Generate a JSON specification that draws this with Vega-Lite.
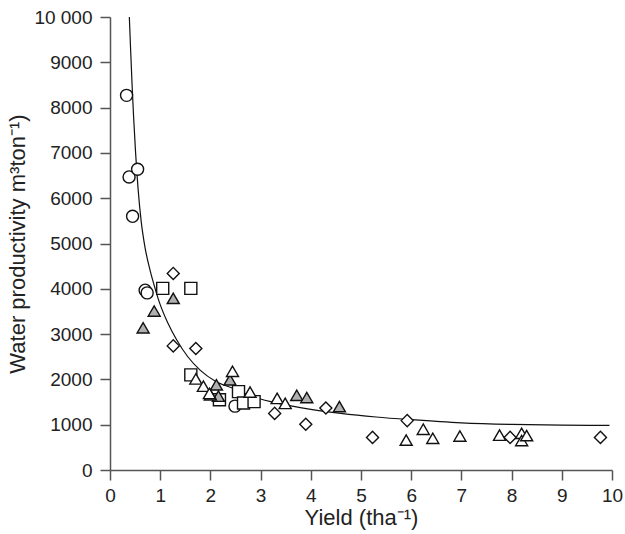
{
  "$schema": "https://vega.github.io/schema/vega-lite/v6.json",
  "width": 502,
  "height": 453,
  "autosize": {"type": "none"},
  "padding": {"left": 110, "top": 17, "right": 13, "bottom": 64},
  "background": "white",
  "config": {
    "view": {"stroke": null},
    "font": "Liberation Sans",
    "axis": {
      "grid": false,
      "domainColor": "#555555",
      "domainWidth": 1.5,
      "tickColor": "#555555",
      "tickWidth": 1.5,
      "tickSize": 10,
      "labelFont": "Liberation Sans",
      "labelFontSize": 19,
      "labelColor": "#222222",
      "titleFont": "Liberation Sans",
      "titleFontSize": 22,
      "titleFontWeight": "normal",
      "titleColor": "#222222"
    }
  },
  "datasets": {
    "pts": [
      {"yield": 0.33, "wp": 8270, "sym": "circle"},
      {"yield": 0.38, "wp": 6470, "sym": "circle"},
      {"yield": 0.55, "wp": 6640, "sym": "circle"},
      {"yield": 0.45, "wp": 5600, "sym": "circle"},
      {"yield": 0.70, "wp": 3970, "sym": "circle"},
      {"yield": 0.74, "wp": 3910, "sym": "circle"},
      {"yield": 2.49, "wp": 1410, "sym": "circle"},
      {"yield": 1.05, "wp": 4010, "sym": "square"},
      {"yield": 1.61, "wp": 4010, "sym": "square"},
      {"yield": 1.61, "wp": 2100, "sym": "square"},
      {"yield": 2.18, "wp": 1550, "sym": "square"},
      {"yield": 2.56, "wp": 1730, "sym": "square"},
      {"yield": 2.66, "wp": 1480, "sym": "square"},
      {"yield": 2.87, "wp": 1510, "sym": "square"},
      {"yield": 1.26, "wp": 4340, "sym": "diamond"},
      {"yield": 1.26, "wp": 2740, "sym": "diamond"},
      {"yield": 1.71, "wp": 2680, "sym": "diamond"},
      {"yield": 3.28, "wp": 1250, "sym": "diamond"},
      {"yield": 3.90, "wp": 1010, "sym": "diamond"},
      {"yield": 4.30, "wp": 1370, "sym": "diamond"},
      {"yield": 5.23, "wp": 720, "sym": "diamond"},
      {"yield": 5.92, "wp": 1090, "sym": "diamond"},
      {"yield": 7.97, "wp": 720, "sym": "diamond"},
      {"yield": 9.77, "wp": 720, "sym": "diamond"},
      {"yield": 0.66, "wp": 3140, "sym": "tri_grey"},
      {"yield": 0.88, "wp": 3510, "sym": "tri_grey"},
      {"yield": 1.26, "wp": 3790, "sym": "tri_grey"},
      {"yield": 2.12, "wp": 1880, "sym": "tri_grey"},
      {"yield": 2.16, "wp": 1630, "sym": "tri_grey"},
      {"yield": 2.00, "wp": 1660, "sym": "tri_grey"},
      {"yield": 2.39, "wp": 1990, "sym": "tri_grey"},
      {"yield": 3.72, "wp": 1650, "sym": "tri_grey"},
      {"yield": 3.92, "wp": 1600, "sym": "tri_grey"},
      {"yield": 4.57, "wp": 1400, "sym": "tri_grey"},
      {"yield": 1.71, "wp": 2010, "sym": "tri_open"},
      {"yield": 1.86, "wp": 1850, "sym": "tri_open"},
      {"yield": 1.98, "wp": 1690, "sym": "tri_open"},
      {"yield": 2.44, "wp": 2180, "sym": "tri_open"},
      {"yield": 2.79, "wp": 1720, "sym": "tri_open"},
      {"yield": 3.33, "wp": 1580, "sym": "tri_open"},
      {"yield": 3.49, "wp": 1470, "sym": "tri_open"},
      {"yield": 5.90, "wp": 660, "sym": "tri_open"},
      {"yield": 6.24, "wp": 900, "sym": "tri_open"},
      {"yield": 6.43, "wp": 700, "sym": "tri_open"},
      {"yield": 6.97, "wp": 750, "sym": "tri_open"},
      {"yield": 7.76, "wp": 770, "sym": "tri_open"},
      {"yield": 8.20, "wp": 810, "sym": "tri_open"},
      {"yield": 8.20, "wp": 650, "sym": "tri_open"},
      {"yield": 8.30, "wp": 760, "sym": "tri_open"}
    ],
    "curve": [
      {"yield": 0.385, "wp": 10000},
      {"yield": 0.41, "wp": 9300},
      {"yield": 0.44, "wp": 8500},
      {"yield": 0.47, "wp": 7800},
      {"yield": 0.51, "wp": 7000},
      {"yield": 0.56, "wp": 6200},
      {"yield": 0.62, "wp": 5500},
      {"yield": 0.70, "wp": 4900},
      {"yield": 0.80, "wp": 4400},
      {"yield": 0.90, "wp": 4000},
      {"yield": 1.00, "wp": 3650},
      {"yield": 1.15, "wp": 3250},
      {"yield": 1.33, "wp": 2870},
      {"yield": 1.55, "wp": 2500},
      {"yield": 1.80, "wp": 2200},
      {"yield": 2.10, "wp": 1960},
      {"yield": 2.46, "wp": 1800},
      {"yield": 2.90, "wp": 1600},
      {"yield": 3.40, "wp": 1460},
      {"yield": 4.00, "wp": 1340},
      {"yield": 4.60, "wp": 1250},
      {"yield": 5.30, "wp": 1170},
      {"yield": 6.00, "wp": 1110},
      {"yield": 7.00, "wp": 1040},
      {"yield": 8.00, "wp": 1005},
      {"yield": 9.00, "wp": 990},
      {"yield": 9.95, "wp": 985}
    ]
  },
  "encoding": {
    "x": {
      "field": "yield", "type": "quantitative",
      "scale": {"domain": [0, 10], "nice": false, "zero": true},
      "axis": {"values": [0,1,2,3,4,5,6,7,8,9,10], "format": "d", "title": "Yield (tha⁻¹)", "labelPadding": 6, "titlePadding": 2, "labelFlush": false}
    },
    "y": {
      "field": "wp", "type": "quantitative",
      "scale": {"domain": [0, 10000], "nice": false},
      "axis": {"values": [0,1000,2000,3000,4000,5000,6000,7000,8000,9000,10000], "format": "d", "labelExpr": "datum.value == 10000 ? '10 000' : datum.label", "title": "Water productivity m³ton⁻¹)", "labelPadding": 8, "titlePadding": 4, "labelFlush": false}
    }
  },
  "layer": [
    {
      "data": {"name": "curve"},
      "mark": {"type": "line", "color": "#111111", "strokeWidth": 1.2, "interpolate": "monotone", "clip": true}
    },
    {
      "data": {"name": "pts"},
      "mark": {"type": "point", "filled": false, "strokeWidth": 1.4, "stroke": "#111111", "opacity": 1},
      "encoding": {
        "shape": {"field": "sym", "type": "nominal", "legend": null,
          "scale": {"domain": ["circle","square","diamond","tri_grey","tri_open"], "range": ["circle","square","diamond","triangle-up","triangle-up"]}},
        "fill": {"field": "sym", "type": "nominal", "legend": null,
          "scale": {"domain": ["circle","square","diamond","tri_grey","tri_open"], "range": ["#ffffff","#ffffff","#ffffff","#b0b0b0","#ffffff"]}},
        "size": {"value": 145}
      }
    }
  ]
}
